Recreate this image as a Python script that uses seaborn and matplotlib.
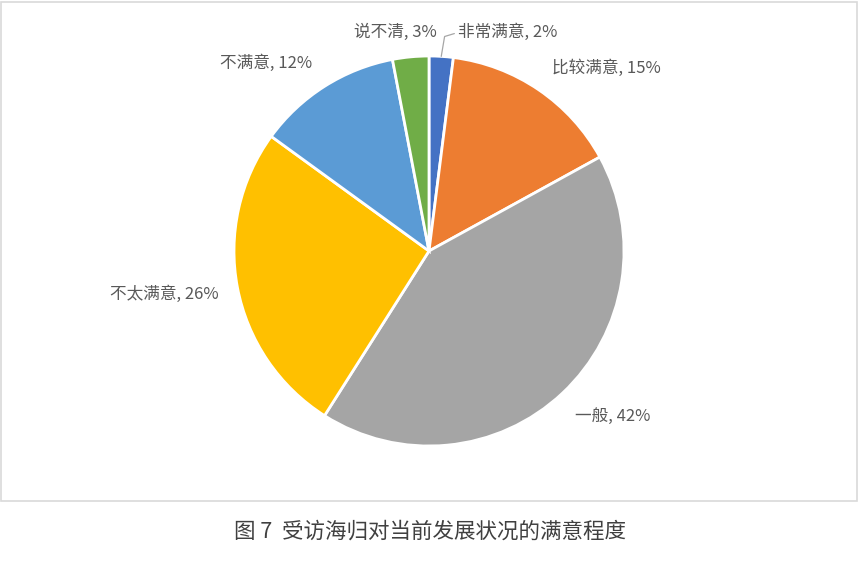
import numpy as np
import seaborn as sns
import matplotlib.pyplot as plt
from matplotlib.patches import Rectangle

sns.set_theme(style='white')
plt.rcParams['font.family'] = ['Noto Sans CJK SC', 'DejaVu Sans']

categories = ['非常满意', '比较满意', '一般', '不太满意', '不满意', '说不清']
shares = [2, 15, 42, 26, 12, 3]
colors = sns.color_palette(['#4472C4', '#ED7D31', '#A5A5A5', '#FFC000', '#5B9BD5', '#70AD47'])
caption = '图 7  受访海归对当前发展状况的满意程度'

# label anchor (x, y in pie radii) and alignment, per slice
label_pos = [(0.15, 1.12, 'left'), (0.63, 0.94, 'left'), (0.75, -0.85, 'left'),
             (-1.08, -0.22, 'right'), (-0.60, 0.965, 'right'), (0.04, 1.12, 'right')]

fig = plt.figure(figsize=(8.6, 5.67), dpi=100)
fig.patch.set_facecolor('white')
fig.patches.append(Rectangle((1 / 860, 1 - 501 / 567), 856 / 860, 499 / 567,
                             transform=fig.transFigure, fill=False,
                             edgecolor='#d9d9d9', linewidth=1.2))

ax = fig.add_axes([234 / 860, (567 - 251 - 195) / 567, 390 / 860, 390 / 567])
wedges, _ = ax.pie(shares, colors=colors, startangle=90, counterclock=False,
                   wedgeprops=dict(edgecolor='white', linewidth=2))
ax.set_xlim(-1, 1)
ax.set_ylim(-1, 1)
ax.set_aspect('equal')
ax.axis('off')

for cat, val, (x, y, ha) in zip(categories, shares, label_pos):
    ax.text(x, y, f'{cat}, {val}%', ha=ha, va='center', fontsize=12,
            color='#595959', clip_on=False)

# leader line for the small slice
w = wedges[0]
mid = np.deg2rad((w.theta1 + w.theta2) / 2)
ax.plot([np.cos(mid) * 1.0, 0.08, 0.13], [np.sin(mid) * 1.0, 1.10, 1.115],
        color='#a6a6a6', linewidth=0.9, clip_on=False)

fig.text(0.5, 1 - 532 / 567, caption, ha='center', va='center',
         fontsize=15.5, color='#404040')

fig.savefig('out.png', dpi=100, facecolor='white')
